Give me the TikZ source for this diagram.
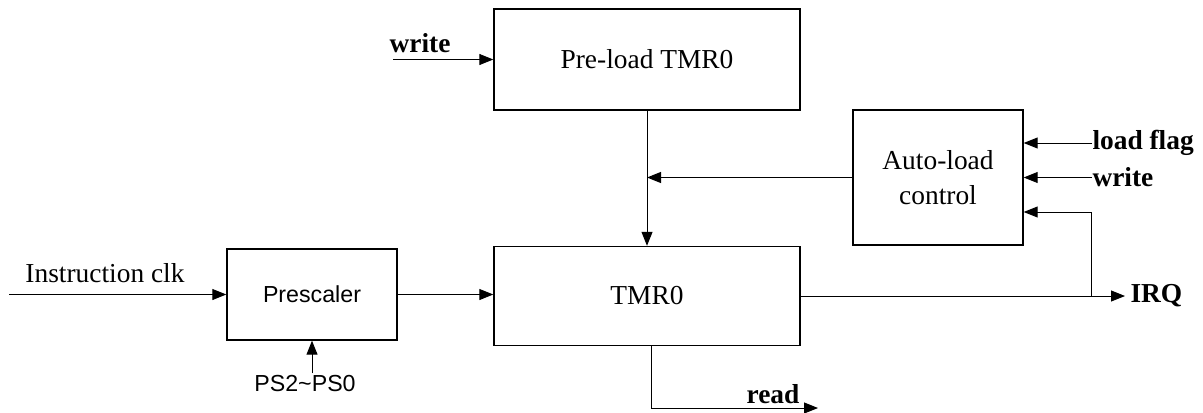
\documentclass[tikz,border=0pt]{standalone}
\usepackage{fontspec}
\setmainfont{Liberation Serif}
\newfontfamily\arialfont{Liberation Sans}
\usetikzlibrary{arrows.meta,positioning,calc}

\tikzset{
 block/.style={draw, line width=0.7pt},
 siglabel/.style={inner sep=0, font=\fontsize{13.7}{17.5}\selectfont\bfseries},
 sanslabel/.style={font=\arialfont\fontsize{11.6}{14}\selectfont}
}

\begin{document}
\begin{tikzpicture}[->,>={Triangle[length=7pt,width=5.5pt]},x=0.5pt,y=-0.5pt,
 line width=0.5pt, font=\fontsize{13.7}{17.5}\selectfont]
 \useasboundingbox (0,0) rectangle (1203,412);
 \node[block, minimum width=153pt, minimum height=50.5pt] (preload) at (647,59.5) {Pre-load TMR0};
 \node[block, minimum width=153pt, minimum height=49.5pt] (tmr) at (647,296) {TMR0};
 \node[block, sanslabel, minimum width=85pt, minimum height=45.5pt] (prescaler) at (312,294.5) {Prescaler};
 \node[block, minimum width=85pt, minimum height=67.5pt, align=center] (autoload) at (938,177.5) {Auto-load\\control};
 \node[inner sep=0] (clklabel) at (105,273) {Instruction clk};
 \node[sanslabel, inner sep=1pt] (ps) at (305,384) {PS2\textasciitilde PS0};
 \coordinate (clkin) at (9,294.5);
 \coordinate (wrin) at (393,59.5);
 \coordinate (lfin) at (1092,143);
 \coordinate (wr2in) at (1092,177.5);
 \coordinate (irq) at (1125,296);
 \coordinate (fb) at (1091,296);
 \coordinate (rdout) at (818,408);
 % inputs
 \draw (clkin) -- (prescaler.west);
 \draw (ps.north -| prescaler.south) -- (prescaler.south);
 \draw (prescaler.east) -- (prescaler.east -| tmr.west);
 \draw (wrin) -- (preload.west);
 \node[siglabel] (wrlabel) at (420,43) {write};
 \draw (preload) -- (tmr);
 \draw (autoload.west) -- (autoload.west -| preload.south);
 % auto-load inputs
 \draw (lfin) -- (lfin -| autoload.east);
 \node[siglabel, right] (lflabel) at (lfin) {load flag};
 \draw (wr2in) -- (wr2in -| autoload.east);
 \node[siglabel, right] (wr2label) at (wr2in) {write};
 % outputs
 \draw (tmr.east) -- (irq);
 \node[siglabel, right, inner sep=2.5pt] (irqlabel) at (irq) {IRQ};
 \draw (fb) |- ([yshift=-17.25pt]autoload.east);
 \draw ([xshift=2pt]tmr.south) |- (rdout);
 \node[siglabel] (rdlabel) at (773,394) {read};
\end{tikzpicture}
\end{document}
